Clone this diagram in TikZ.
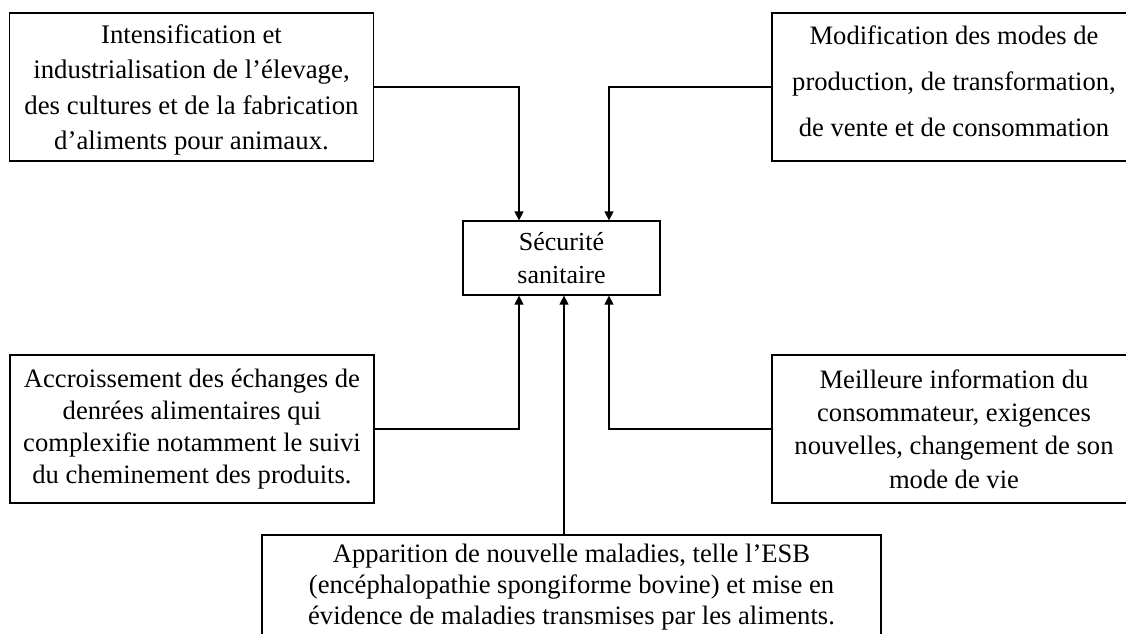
\documentclass[tikz,border=0pt]{standalone}
\usepackage{fontspec}
\setmainfont{Liberation Serif}
\usetikzlibrary{arrows.meta}
\begin{document}
\begin{tikzpicture}[x=0.5pt, y=-0.5pt,
    boite/.style={draw, line width=0.6pt, align=center, inner sep=0pt,
      minimum width=182pt, minimum height=74pt},
    texte/.style={align=center, inner sep=0pt},
    fleche/.style={-{Triangle[length=4.5pt,width=4.5pt]}, line width=0.6pt}]
  \useasboundingbox (0,0) rectangle (1126,633);
  \clip (0,0) rectangle (1126,633);
  % les cinq causes autour du centre
  \node[boite] (intens) at (191.5,87) {};
  \node[texte, font=\fontsize{13.4}{17.8}\selectfont] (intenstxt) at (191.5,90)
    {Intensification et\\ industrialisation de l’élevage,\\ des cultures et de la fabrication\\ d’aliments pour animaux.};
  \node[boite] (modif) at (954,87) {};
  \node[texte, font=\fontsize{13.3}{23}\selectfont] (modiftxt) at (954,81)
    {Modification des modes de\\ production, de transformation,\\ de vente et de consommation};
  \node[boite, minimum width=98.5pt, minimum height=37pt, font=\fontsize{13}{16.5}\selectfont] (secu) at (561.5,258)
    {Sécurité\\ sanitaire};
  \node[boite, font=\fontsize{13.3}{16}\selectfont] (echanges) at (192,429)
    {Accroissement des échanges de\\ denrées alimentaires qui\\ complexifie notamment le suivi\\ du cheminement des produits.};
  \node[boite, font=\fontsize{13.3}{16.7}\selectfont] (conso) at (954,429)
    {Meilleure information du\\ consommateur, exigences\\ nouvelles, changement de son\\ mode de vie};
  \node[boite, minimum width=309.5pt, minimum height=52pt, font=\fontsize{13.3}{15.5}\selectfont] (esb) at (571.5,587)
    {Apparition de nouvelle maladies, telle l’ESB\\ (encéphalopathie spongiforme bovine) et mise en\\ évidence de maladies transmises par les aliments.};
  % fleches
  \draw[fleche] (intens.east) -| ([xshift=-21.25pt]secu.north);
  \draw[fleche] (modif.west) -| ([xshift=23.75pt]secu.north);
  \draw[fleche] (echanges.east) -| ([xshift=-21.25pt]secu.south);
  \draw[fleche] (conso.west) -| ([xshift=23.75pt]secu.south);
  \draw[fleche] ([xshift=1.25pt]secu.south |- esb.north) -- ([xshift=1.25pt]secu.south);
\end{tikzpicture}
\end{document}
